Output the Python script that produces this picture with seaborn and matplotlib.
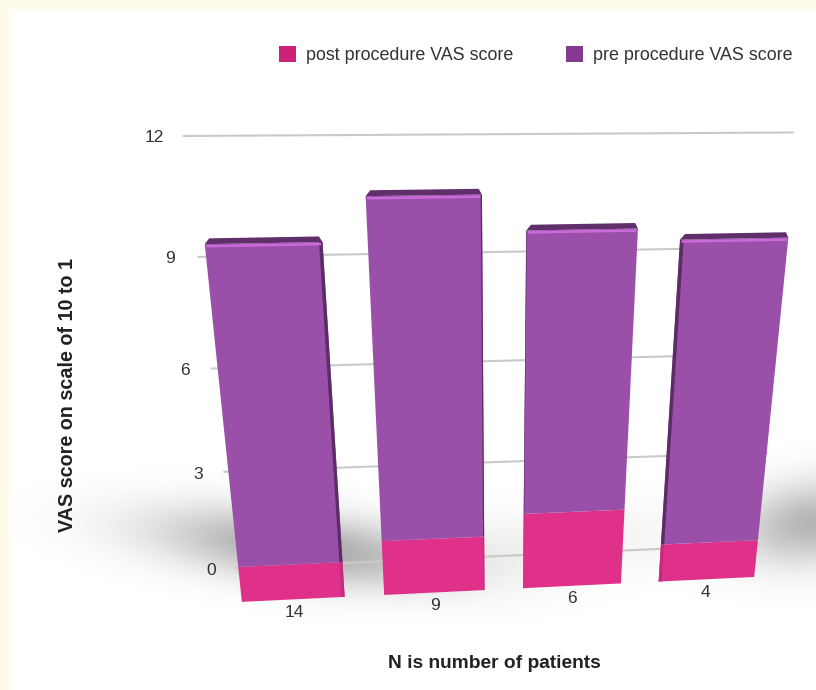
import numpy as np
import pandas as pd
import matplotlib
matplotlib.use('Agg')
import matplotlib.pyplot as plt
import seaborn as sns
from matplotlib.patches import Rectangle
from matplotlib.transforms import Transform

# valores
n_patients = ['14', '9', '6', '4']
post_vas = [1.1, 1.7, 2.35, 1.2]
total_vas = [10.0, 11.1, 10.2, 9.9]
y_ticks = [0, 3, 6, 9, 12]

series_names = ['post procedure VAS score', 'pre procedure VAS score']
y_title = 'VAS score on scale of 10 to 1'
x_title = 'N is number of patients'

W, H = 816, 690
BAR_W = 0.72


class Projection(Transform):
    # perspectiva del dibujo 3D: datos -> pixeles de la figura
    input_dims = 2
    output_dims = 2

    def __init__(self, data_pts, pixel_pts):
        super().__init__()
        rows, rhs = [], []
        for (x, y), (u, v) in zip(data_pts, pixel_pts):
            rows.append([x, y, 1, 0, 0, 0, -u * x, -u * y])
            rows.append([0, 0, 0, x, y, 1, -v * x, -v * y])
            rhs += [u, v]
        h = np.linalg.lstsq(np.array(rows, float), np.array(rhs, float), rcond=None)[0]
        self.m = np.append(h, 1).reshape(3, 3)

    def transform_non_affine(self, values):
        values = np.asarray(values, float)
        p = np.c_[values, np.ones(len(values))] @ self.m.T
        return np.c_[p[:, 0] / p[:, 2], H - p[:, 1] / p[:, 2]]


# calibracion de la perspectiva (plano de las barras y plano del fondo)
bar_proj = Projection(
    [(-.36, 0), (.36, 0), (.64, 0), (1.36, 0), (1.64, 0), (2.36, 0), (2.64, 0), (3.36, 0),
     (-.36, 10), (.36, 10), (.64, 10), (1.36, 10), (1.64, 10), (2.36, 10), (2.64, 10), (3.36, 10)],
    [(243, 603), (343, 597), (385, 595), (484, 591), (523, 588), (621, 584), (658, 580), (755, 576),
     (205, 244), (323, 242), (369, 240), (481, 238), (526, 238), (637, 236), (677, 238), (792, 235)])
wall_proj = Projection(
    [(-.5, 12), (-.5, 9), (-.5, 6), (-.5, 3), (-.5, 0), (3.5, 12), (3.5, 9), (3.5, 6), (3.5, 3), (3.5, 0)],
    [(185, 136), (198, 256), (211, 369), (222, 473), (237, 567), (795, 132), (780, 247), (775, 354), (768, 454), (760, 543)])

sns.set_theme(style='white')
plt.rcParams['font.family'] = ['Liberation Sans', 'DejaVu Sans']

fig = plt.figure(figsize=(W / 100, H / 100), dpi=100, facecolor='#FEFBE8')
fig.add_artist(Rectangle((9 / W, 0), 1, 1 - 9 / H, transform=fig.transFigure, fc='white', ec='none', zorder=-3))

# sombra del suelo
X, Y = np.meshgrid(np.arange(W), np.arange(H))


def blob(cx, cy, sx, sy, angle, amp):
    a = np.radians(angle)
    dx, dy = X - cx, Y - cy
    u = dx * np.cos(a) + dy * np.sin(a)
    v = -dx * np.sin(a) + dy * np.cos(a)
    return amp * np.exp(-(u / sx) ** 2 - (v / sy) ** 2)


shadow = blob(300, 547, 145, 34, 7, .34) + blob(815, 522, 80, 40, -8, .29) + blob(570, 540, 130, 36, -3, .05)
rgba = np.zeros((H, W, 4))
rgba[..., 3] = np.clip(shadow, 0, 1)
rgba[:9, :, 3] = 0
rgba[:, :9, 3] = 0
fig.figimage(rgba, origin='upper', zorder=-2)

ax = fig.add_axes([0, 0, 1, 1])
df = pd.DataFrame({'n': n_patients, 'post': post_vas, 'total': total_vas})
df['pre'] = df['total'] - df['post']

sns.barplot(data=df, x='n', y='post', order=n_patients, color='#DF3189', saturation=1,
            width=BAR_W, linewidth=0, label=series_names[0], ax=ax, zorder=3)
sns.barplot(data=df, x='n', y='pre', order=n_patients, color='#9A50A8', saturation=1,
            width=BAR_W, linewidth=0, bottom=df['post'].values, label=series_names[1], ax=ax, zorder=3)
for p in ax.patches:
    p.set_transform(bar_proj)
    p.set_clip_on(False)

# caras de arriba y laterales
side_w = [.022, .008, .004, .024]
side_dir = [1, 1, -1, -1]
for i, (low, top) in enumerate(zip(post_vas, total_vas)):
    l, r = i - BAR_W / 2, i + BAR_W / 2
    ax.fill([l, r, r - .02, l + .03], [top, top, top + .14, top + .14], color='#5F2E6B', lw=0,
            transform=bar_proj, clip_on=False, zorder=4)
    ax.plot([l + .01, r - .01], [top - .05, top - .05], color='#CB6ADB', lw=1.8,
            transform=bar_proj, clip_on=False, zorder=5, solid_capstyle='butt')
    edge = r if side_dir[i] > 0 else l
    inner = edge - side_dir[i] * side_w[i]
    ax.fill([edge, inner, inner, edge], [low, low, top, top], color='#5B2C66', lw=0,
            transform=bar_proj, clip_on=False, zorder=4)
    ax.fill([edge, inner, inner, edge], [0, 0, low, low], color='#C52A80', lw=0,
            transform=bar_proj, clip_on=False, zorder=4)
    ax.text(i, -.43, n_patients[i], transform=bar_proj, ha='center', va='center',
            fontsize=12.5, color='#333333', clip_on=False)

# rejilla y etiquetas del eje y
for t in y_ticks:
    ax.plot([-.5, 3.5], [t, t], color='#C9C9C9', lw=1.5, transform=wall_proj, clip_on=False, zorder=1)
    ax.text(-.68, t - .04, str(t), transform=wall_proj, ha='center', va='center',
            fontsize=12.5, color='#333333', clip_on=False)

leg = ax.legend(loc='center left', bbox_to_anchor=(279 / W, 1 - 55 / H), bbox_transform=fig.transFigure,
                ncol=2, frameon=False, fontsize=12.9, borderpad=0, borderaxespad=0, handlelength=.97,
                handleheight=1.0, handletextpad=.56, columnspacing=2.9, labelcolor='#333333')
for patch, c in zip(leg.get_patches(), ['#CC2277', '#833A8E']):
    patch.set_facecolor(c)

ax.axis('off')
fig.text(68 / W, 1 - 395 / H, y_title, rotation=90, ha='center', va='center', fontsize=14.2,
         fontweight='bold', color='#222222')
fig.text(494 / W, 1 - 663 / H, x_title, ha='center', va='center', fontsize=13.8,
         fontweight='bold', color='#222222')

fig.savefig('out.png', dpi=100, facecolor=fig.get_facecolor())
